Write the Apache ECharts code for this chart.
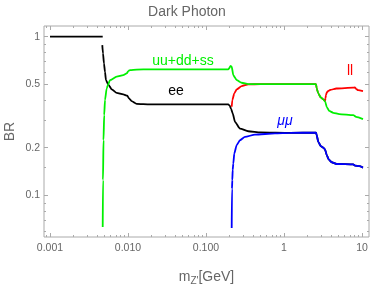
<!DOCTYPE html>
<html><head><meta charset="utf-8">
<script src="https://cdn.jsdelivr.net/npm/echarts@6/dist/echarts.min.js"></script>
<style>html,body{margin:0;padding:0;background:#fff}#c{width:374px;height:286px}</style>
</head><body><div id="c"></div>
<script>
// ---- data: [mass in GeV, BR] ----
const xTickValues = [0.001, 0.01, 0.1, 1, 10];
const xTickLabels = ['0.001', '0.010', '0.100', '1', '10'];
const yTickValues = [0.1, 0.2, 0.5, 1];
const yTickLabels = ['0.1', '0.2', '0.5', '1'];
const yMinorValues = [0.06, 0.07, 0.08, 0.09, 0.15, 0.3, 0.4, 0.6, 0.7, 0.8, 0.9];

const eeFlat = [[0.001, 1], [0.00474, 1]];
const ee = [
  [0.00468, 0.886], [0.00478, 0.786], [0.00492, 0.68], [0.00507, 0.60], [0.00522, 0.533],
  [0.00559, 0.50], [0.0062, 0.466], [0.00716, 0.443], [0.0087, 0.433], [0.0098, 0.425],
  [0.0103, 0.409], [0.01115, 0.393], [0.0129, 0.378], [0.0191, 0.375], [0.05, 0.375],
  [0.1932, 0.375], [0.2013, 0.368], [0.2092, 0.353], [0.22, 0.329], [0.2355, 0.291],
  [0.2729, 0.264], [0.3486, 0.254], [0.5, 0.25], [1.2, 0.248], [2.573, 0.249],
  [2.626, 0.24], [2.753, 0.218], [2.954, 0.205], [3.257, 0.199], [3.385, 0.193],
  [3.527, 0.18], [3.743, 0.169], [4.088, 0.162], [4.739, 0.158], [7.735, 0.157],
  [8.136, 0.1545], [9.235, 0.153], [10.3, 0.150]
];
const hadrons = [
  [0.00474, 0.0634], [0.00478, 0.125], [0.00485, 0.223], [0.00495, 0.321], [0.00507, 0.399],
  [0.00533, 0.473], [0.00559, 0.503], [0.00587, 0.533], [0.00716, 0.56], [0.0087, 0.573],
  [0.00962, 0.588], [0.01009, 0.608], [0.0106, 0.617], [0.01293, 0.621], [0.0191, 0.623],
  [0.1932, 0.623], [0.2074, 0.654], [0.2136, 0.647], [0.2239, 0.573], [0.2476, 0.533],
  [0.2869, 0.513], [0.3486, 0.503], [2.573, 0.503], [2.626, 0.473], [2.753, 0.44],
  [2.954, 0.415], [3.2, 0.403], [3.385, 0.389], [3.527, 0.362], [3.80, 0.341],
  [4.286, 0.332], [5.1, 0.326], [7.735, 0.321], [8.4, 0.313], [10.3, 0.303]
];
const leptons = [
  [0.2136, 0.362], [0.2174, 0.399], [0.2306, 0.44], [0.2476, 0.466], [0.2869, 0.489],
  [0.3486, 0.501], [0.5, 0.503], [2.573, 0.503], [2.626, 0.473], [2.753, 0.44],
  [2.954, 0.415], [3.2, 0.403], [3.36, 0.393], [3.40, 0.41], [3.46, 0.43], [3.55, 0.447],
  [3.7, 0.456], [3.9, 0.462], [4.7, 0.472], [7.7, 0.478], [8.1, 0.479], [8.4, 0.47],
  [8.9, 0.461], [10.3, 0.455]
];
const mumu = [
  [0.2136, 0.0625], [0.2155, 0.11], [0.2174, 0.125], [0.22, 0.145], [0.2239, 0.159],
  [0.2306, 0.184], [0.2476, 0.208], [0.2729, 0.223], [0.3162, 0.234], [0.4249, 0.242],
  [0.7665, 0.246], [1.2, 0.248], [2.573, 0.249], [2.626, 0.24], [2.753, 0.218],
  [2.954, 0.205], [3.257, 0.199], [3.385, 0.193], [3.527, 0.18], [3.743, 0.169],
  [4.088, 0.162], [4.739, 0.158], [7.735, 0.157], [8.136, 0.1545], [9.235, 0.153], [10.3, 0.150]
];

const L = v => Math.log10(v);
const toLog = arr => arr.map(p => [L(p[0]), L(p[1])]);
const xMinor = [];
for (let k = -4; k <= 1; k++) for (let m = 2; m <= 9; m++) xMinor.push(m * Math.pow(10, k));

const XMIN = -3.077, XMAX = 1.09, YMIN = -1.261, YMAX = 0.0675;
const gray = '#aaa';
const font = 'Liberation Sans, Arial, sans-serif';
function xAx(pos, vals, len, labels) {
  return {
    type: 'value', position: pos, min: XMIN, max: XMAX,
    axisLine: { show: false, onZero: false }, splitLine: { show: false },
    axisTick: { show: true, inside: true, length: len, customValues: vals.map(L), lineStyle: { color: gray } },
    axisLabel: labels ? {
      show: true, margin: 6, color: '#666', fontSize: 10.5, fontFamily: font,
      customValues: vals.map(L), formatter: v => labels[xTickValues.findIndex(t => Math.abs(L(t) - v) < 1e-6)]
    } : { show: false }
  };
}
function yAx(pos, vals, len, labels) {
  return {
    type: 'value', position: pos, min: YMIN, max: YMAX,
    axisLine: { show: false, onZero: false }, splitLine: { show: false },
    axisTick: { show: true, inside: true, length: len, customValues: vals.map(L), lineStyle: { color: gray } },
    axisLabel: labels ? {
      show: true, margin: 4, color: '#666', fontSize: 10.5, fontFamily: font,
      customValues: vals.map(L), formatter: v => labels[yTickValues.findIndex(t => Math.abs(L(t) - v) < 1e-6)]
    } : { show: false }
  };
}
const xs = [xAx('bottom', xTickValues, 4, xTickLabels), xAx('bottom', xMinor, 2), xAx('top', xTickValues, 4), xAx('top', xMinor, 2)];
xs[0].name = '{m|m}{s|Z\'}{g|[GeV]}';
xs[0].nameLocation = 'middle';
xs[0].nameGap = 31;
xs[0].nameMoveOverlap = false;
xs[0].nameTextStyle = {
  color: '#666', fontFamily: font,
  rich: { m: { fontSize: 14, color: '#666', fontFamily: font }, s: { fontSize: 10, color: '#666', fontFamily: font, verticalAlign: 'bottom', padding: [8, 0, 0, 0] }, g: { fontSize: 14, color: '#666', fontFamily: font } }
};
const ys = [yAx('left', yTickValues, 4, yTickLabels), yAx('left', yMinorValues, 2), yAx('right', yTickValues, 4), yAx('right', yMinorValues, 2)];
ys[0].name = 'BR';
ys[0].nameLocation = 'middle';
ys[0].nameGap = 27;
ys[0].nameMoveOverlap = false;
ys[0].nameTextStyle = { color: '#666', fontSize: 14, fontFamily: font };

function line(data, color, name) {
  return { type: 'line', name, data: toLog(data), xAxisIndex: 0, yAxisIndex: 0, symbol: 'none',
    smooth: 0.2, smoothMonotone: 'x', lineStyle: { color, width: 1.8 }, itemStyle: { color }, animation: false };
}
const chart = echarts.init(document.getElementById('c'), null, { renderer: 'canvas' });
chart.setOption({
  backgroundColor: '#fff',
  title: { text: 'Dark Photon', left: 'center', top: 0, textStyle: { color: '#666', fontSize: 14, fontWeight: 'normal', fontFamily: font } },
  grid: { left: 44, right: 5, top: 26, bottom: 49, show: true, borderColor: '#aaa', borderWidth: 1, backgroundColor: 'transparent', containLabel: false, outerBoundsMode: 'none' },
  xAxis: xs,
  yAxis: ys,
  series: [
    line(eeFlat, '#000000', 'ee'),
    line(ee, '#000000', 'ee'),
    line(leptons, '#ff0000', 'll'),
    line(hadrons, '#00f000', 'uu+dd+ss'),
    line(mumu, '#0000ff', 'μμ')
  ],
  graphic: [
    { type: 'text', x: 183, y: 61, style: { text: 'uu+dd+ss', fill: '#00f000', font: '14px ' + font, textAlign: 'center', textVerticalAlign: 'middle' } },
    { type: 'text', x: 176, y: 91, style: { text: 'ee', fill: '#000', font: '14px ' + font, textAlign: 'center', textVerticalAlign: 'middle' } },
    { type: 'text', x: 285, y: 121, style: { text: 'μμ', fill: '#0000ff', font: 'italic 14px ' + font, textAlign: 'center', textVerticalAlign: 'middle' } },
    { type: 'text', x: 350, y: 71, style: { text: 'll', fill: '#ff0000', font: '14px ' + font, textAlign: 'center', textVerticalAlign: 'middle' } }
  ]
});
</script>
</body></html>
